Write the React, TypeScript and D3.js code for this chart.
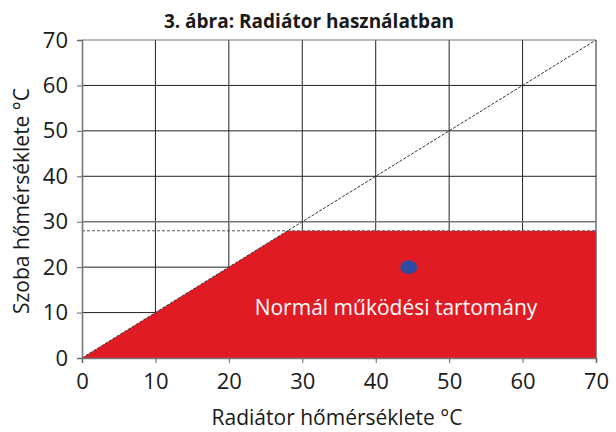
import React, { useEffect, useRef } from "react";
import * as d3 from "d3";

// chart values
const xTicks = [0, 10, 20, 30, 40, 50, 60, 70];
const yTicks = [0, 10, 20, 30, 40, 50, 60, 70];
const rangeX = [0, 28, 70, 70];
const rangeY = [0, 28, 28, 0];
const limitTemp = 28;
const point = { x: 44.5, y: 20 };
const title = "3. ábra: Radiátor használatban";
const xTitle = "Radiátor hőmérséklete °C";
const yTitle = "Szoba hőmérséklete °C";
const areaLabel = "Normál működési tartomány";

const W = 616;
const H = 432;
const FONT = "'Myriad Pro', 'Open Sans', sans-serif";

export default function App() {
  const ref = useRef<SVGSVGElement>(null);

  useEffect(() => {
    const svg = d3.select(ref.current);
    svg.selectAll("*").remove();

    const x = d3.scaleLinear().domain([0, 70]).range([82, 596]);
    const y = d3.scaleLinear().domain([0, 70]).range([358, 40]);

    // grid lines
    const grid = svg.append("g");
    grid.selectAll("line.v")
      .data(xTicks.filter(d => d > 0))
      .join("line")
      .attr("x1", d => x(d)).attr("x2", d => x(d))
      .attr("y1", y(0)).attr("y2", y(70))
      .attr("stroke", "#222").attr("stroke-width", 1);
    grid.selectAll("line.h")
      .data(yTicks.filter(d => d > 0))
      .join("line")
      .attr("x1", x(0)).attr("x2", x(70))
      .attr("y1", d => y(d)).attr("y2", d => y(d))
      .attr("stroke", d => (d === 30 || d === 70 ? "#777" : "#222"))
      .attr("stroke-width", d => (d === 30 ? 1.6 : 1));

    // normal operating range
    const pts = rangeX.map((v, i) => [x(v), y(rangeY[i])] as [number, number]);
    svg.append("path")
      .attr("d", d3.line()(pts) + "Z")
      .attr("fill", "#e11b24");

    // dashed reference lines
    svg.append("line")
      .attr("x1", x(0)).attr("y1", y(0))
      .attr("x2", x(70)).attr("y2", y(70))
      .attr("stroke", "#333").attr("stroke-width", 1)
      .attr("stroke-dasharray", "3,1.5");
    svg.append("line")
      .attr("x1", x(0)).attr("y1", y(limitTemp))
      .attr("x2", x(70)).attr("y2", y(limitTemp))
      .attr("stroke", "#555").attr("stroke-width", 1)
      .attr("stroke-dasharray", "3,2");

    // axes
    const xAxis = svg.append("g")
      .attr("transform", `translate(0,${y(0)})`)
      .call(d3.axisBottom(x).tickValues(xTicks).tickSize(5).tickPadding(10));
    const yAxis = svg.append("g")
      .attr("transform", `translate(${x(0)},0)`)
      .call(d3.axisLeft(y).tickValues(yTicks).tickSize(5).tickPadding(9));
    [xAxis, yAxis].forEach(a => {
      a.select(".domain").attr("stroke", "#777").attr("stroke-width", 1.6);
      a.selectAll(".tick line").attr("stroke", "#666");
      a.selectAll("text")
        .attr("fill", "#1a1a1a")
        .style("font-family", FONT)
        .style("font-size", "22px");
    });

    // point
    svg.append("ellipse")
      .attr("cx", x(point.x)).attr("cy", y(point.y))
      .attr("rx", 8.5).attr("ry", 6.8)
      .attr("fill", "#2f4b9f");

    // label inside range
    svg.append("text")
      .attr("x", 396).attr("y", 315)
      .attr("text-anchor", "middle")
      .attr("fill", "#fff")
      .style("font-family", FONT)
      .style("font-size", "21px")
      .text(areaLabel);

    // titles
    svg.append("text")
      .attr("x", 309).attr("y", 28)
      .attr("text-anchor", "middle")
      .attr("fill", "#1a1a1a")
      .style("font-family", FONT)
      .style("font-weight", "bold")
      .style("font-size", "19px")
      .text(title);
    svg.append("text")
      .attr("x", 337).attr("y", 425)
      .attr("text-anchor", "middle")
      .attr("fill", "#1a1a1a")
      .style("font-family", FONT)
      .style("font-size", "21px")
      .text(xTitle);
    svg.append("text")
      .attr("transform", `translate(29,201) rotate(-90)`)
      .attr("text-anchor", "middle")
      .attr("fill", "#1a1a1a")
      .style("font-family", FONT)
      .style("font-size", "21px")
      .text(yTitle);
  }, []);

  return (
    <svg
      ref={ref}
      width={W}
      height={H}
      style={{ position: "absolute", left: 0, top: 0, background: "#fff" }}
    />
  );
}
